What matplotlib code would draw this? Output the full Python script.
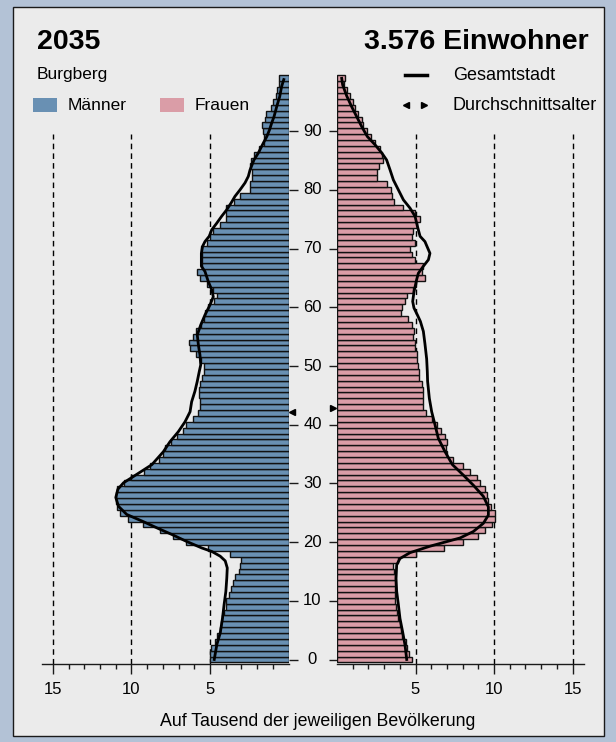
import matplotlib
matplotlib.use('Agg')
import matplotlib.pyplot as plt
from matplotlib.patches import Rectangle
from matplotlib.lines import Line2D
from matplotlib.transforms import blended_transform_factory
import numpy as np

plt.rcParams['font.family'] = ['Liberation Sans', 'DejaVu Sans']

# Data: per mille of the district population, ages 0..99
ages = np.arange(100)
maenner = [
    5.03, 5.03, 4.93, 4.67, 4.55, 4.38, 4.30, 4.25, 4.10, 4.00,
    3.95, 3.78, 3.66, 3.55, 3.40, 3.18, 3.07, 3.05, 3.74, 5.14,
    6.55, 7.35, 8.20, 9.25, 10.25, 10.75, 10.95, 11.00, 11.00, 10.93,
    10.50, 10.02, 9.20, 8.80, 8.23, 7.97, 7.87, 7.48, 7.12, 6.70,
    6.53, 6.10, 5.74, 5.62, 5.64, 5.68, 5.68, 5.64, 5.53, 5.40,
    5.40, 5.60, 5.87, 6.28, 6.35, 6.10, 5.90, 5.60, 5.40, 5.30,
    5.15, 4.75, 4.58, 4.83, 5.20, 5.64, 5.80, 5.50, 5.53, 5.50,
    5.55, 5.21, 5.02, 4.79, 4.38, 4.00, 3.98, 3.96, 3.47, 3.07,
    2.45, 2.45, 2.35, 2.35, 2.45, 2.40, 2.20, 1.90, 1.55, 1.55,
    1.60, 1.70, 1.50, 1.43, 1.10, 1.00, 0.80, 0.75, 0.60, 0.58,
]
frauen = [
    4.76, 4.60, 4.48, 4.39, 4.15, 4.06, 4.00, 3.91, 3.80, 3.76,
    3.72, 3.69, 3.69, 3.69, 3.69, 3.65, 3.55, 3.90, 5.05, 6.82,
    8.00, 8.95, 9.43, 9.89, 10.06, 10.06, 9.80, 9.64, 9.55, 9.40,
    9.10, 8.90, 8.47, 8.00, 7.37, 7.00, 6.95, 6.99, 6.88, 6.62,
    6.35, 6.03, 5.67, 5.50, 5.50, 5.50, 5.50, 5.39, 5.20, 5.25,
    5.18, 5.12, 5.07, 4.95, 4.97, 4.86, 4.90, 4.80, 4.54, 4.10,
    4.12, 4.30, 4.45, 4.83, 5.00, 5.60, 5.40, 5.50, 4.97, 4.76,
    4.65, 4.97, 4.76, 4.86, 5.07, 5.30, 4.97, 4.18, 3.65, 3.50,
    3.42, 3.16, 2.53, 2.53, 2.70, 2.95, 2.87, 2.74, 2.42, 2.14,
    1.89, 1.68, 1.57, 1.36, 1.15, 1.00, 0.83, 0.62, 0.45, 0.51,
]

# Gesamtstadt profile (read as points along the curve)
ges_m_alter = [0, 2.6, 4.5, 7.1, 9.4, 11.6, 13.9, 15.6, 16.8, 17.6, 18.4, 19.0,
               20.1, 21.3, 22.3, 23.6, 24.7, 26.1, 27.6, 29.0, 30.1, 31.0, 32.1,
               33.2, 35.4, 37.1, 38.8, 40.5, 42.2, 43.9, 45.7, 47.4, 49.1, 50.2,
               51.9, 53.6, 55.3, 57.0, 58.7, 60.4, 61.8, 63.0, 64.4, 66.1, 67.0,
               69.2, 70.4, 71.2, 72.1, 73.2, 74.3, 75.5, 76.6, 77.8, 78.9, 80.0,
               81.2, 82.3, 83.4, 85.1, 86.3, 88.0, 89.1, 90.3, 91.4, 92.5, 94.2,
               95.9, 97.6, 98.8]
ges_m = [4.73, 4.56, 4.35, 4.20, 4.10, 3.99, 3.93, 3.90, 4.03, 4.35, 4.88, 5.52,
         6.48, 7.43, 8.28, 9.34, 10.30, 10.83, 11.00, 10.87, 10.51, 9.98, 9.34,
         8.70, 7.97, 7.55, 7.02, 6.59, 6.27, 6.17, 5.96, 5.81, 5.68, 5.59,
         5.64, 5.74, 5.81, 5.59, 5.32, 5.00, 4.79, 4.89, 5.11, 5.32, 5.55,
         5.55, 5.47, 5.32, 5.05, 4.89, 4.58, 4.26, 3.94, 3.65, 3.41, 3.09,
         2.77, 2.56, 2.45, 2.20, 1.92, 1.60, 1.38, 1.20, 1.07, 0.92, 0.75,
         0.56, 0.44, 0.30]
ges_f_alter = [0, 2.5, 4.7, 7.0, 9.3, 11.6, 13.8, 16.1, 17.2, 18.2, 19.3, 20.7,
               21.8, 23.2, 24.6, 26.0, 27.8, 29.7, 31.4, 33.2, 35.4, 37.7, 40.0,
               42.2, 44.5, 47.4, 49.1, 51.2, 53.8, 55.9, 57.6, 58.7, 59.9, 61.0,
               62.6, 64.7, 65.8, 67.0, 68.1, 69.2, 71.2, 72.1, 73.8, 75.5, 76.9,
               78.3, 80.0, 81.7, 83.4, 85.1, 86.3, 87.7, 89.1, 90.8, 92.5, 94.2,
               96.0, 97.9, 99.0]
ges_f = [4.44, 4.33, 4.18, 4.01, 3.91, 3.80, 3.76, 3.80, 4.01, 4.65, 5.92, 7.83,
         8.68, 9.32, 9.64, 9.64, 9.32, 8.68, 8.05, 7.35, 6.88, 6.45, 6.24,
         6.03, 5.88, 5.77, 5.75, 5.71, 5.60, 5.50, 5.31, 5.12, 4.90, 4.82,
         4.90, 5.07, 5.18, 5.50, 5.82, 5.92, 5.60, 5.29, 5.12, 4.97, 4.65,
         4.23, 3.91, 3.59, 3.38, 3.16, 2.85, 2.42, 1.93, 1.57, 1.25, 0.93,
         0.62, 0.36, 0.30]

avg_m = 42.2
avg_f = 42.8
jahr = '2035'
einwohner = '3.576 Einwohner'
bezirk = 'Burgberg'
y_ticks = list(range(0, 100, 10))
x_major = [5, 10, 15]
x_minor = [1, 2, 3, 4, 6, 7, 8, 9, 11, 12, 13, 14]

BLUE = '#6990B3'
PINK = '#DA9DA7'
W, H = 616, 742


def fx(px):
    return px / W


def fy(py):
    return (H - py) / H


fig = plt.figure(figsize=(W / 100, H / 100), dpi=100, facecolor='#B3C2D6')
fig.add_artist(Rectangle((fx(13), fy(736)), fx(604) - fx(13), fy(7) - fy(736),
                         transform=fig.transFigure, facecolor='#EBEBEB',
                         edgecolor='#1a1a1a', linewidth=1, zorder=0))

y0, y1 = -0.68, 100
ax_m = fig.add_axes([fx(42), fy(663.5), fx(288.5) - fx(42), fy(72.5) - fy(663.5)])
ax_f = fig.add_axes([fx(337), fy(663.5), fx(584) - fx(337), fy(72.5) - fy(663.5)])

for ax, vals, col, g_age, g_val in [(ax_m, maenner, BLUE, ges_m_alter, ges_m),
                                    (ax_f, frauen, PINK, ges_f_alter, ges_f)]:
    ax.set_facecolor('none')
    ax.vlines(x_major, y0, 89.5, colors='black', linestyles=(0, (4, 3)),
              linewidth=1, zorder=1)
    ax.barh(ages, vals, height=1, color=col, edgecolor='#111111',
            linewidth=1.0, zorder=2)
    ax.plot(g_val, g_age, color='black', linewidth=2, zorder=3,
            solid_joinstyle='round')
    ax.set_ylim(y0, y1)
    ax.set_xticks(x_major)
    ax.set_xticks(x_minor, minor=True)
    ax.set_xticklabels([str(v) for v in x_major], fontsize=12)
    ax.tick_params(axis='x', which='major', length=7, width=1, pad=6.5,
                   color='#1a1a1a')
    ax.tick_params(axis='x', which='minor', length=3.5, width=1,
                   color='#1a1a1a')
    for s in ['top', 'left', 'right']:
        ax.spines[s].set_visible(False)
    ax.spines['bottom'].set_linewidth(1)
    ax.spines['bottom'].set_color('#1a1a1a')
    ax.set_yticks(y_ticks)

ax_m.set_xlim(15.7, 0)
ax_f.set_xlim(0, 15.73)
ax_m.yaxis.tick_right()
ax_m.tick_params(axis='y', right=True, left=False, labelright=False,
                 labelleft=False, length=6.5, width=1, color='#1a1a1a')
ax_f.tick_params(axis='y', left=True, labelleft=False, length=6,
                 width=1, color='#1a1a1a')

# age labels between the two halves
tr = blended_transform_factory(fig.transFigure, ax_f.transData)
for a in y_ticks:
    fig.text(fx(312.5), a, str(a), transform=tr, ha='center', va='center',
             fontsize=12)

# average age markers
ax_m.plot([-0.22], [avg_m], marker='<', color='black', markersize=5,
          clip_on=False, zorder=4)
ax_f.plot([-0.26], [avg_f], marker='>', color='black', markersize=5,
          clip_on=False, zorder=4)

# header texts
fig.text(fx(37), fy(42), jahr, fontsize=20.5, fontweight='bold',
         ha='left', va='center')
fig.text(fx(589), fy(42), einwohner, fontsize=20.5, fontweight='bold',
         ha='right', va='center')
fig.text(fx(37), fy(75), bezirk, fontsize=12.5, ha='left', va='center')

# legend
fig.add_artist(Rectangle((fx(33), fy(112)), fx(24), fy(98) - fy(112),
                         transform=fig.transFigure, facecolor=BLUE,
                         edgecolor='none'))
fig.text(fx(68), fy(105), 'Männer', fontsize=12.5, ha='left', va='center')
fig.add_artist(Rectangle((fx(160), fy(112)), fx(24), fy(98) - fy(112),
                         transform=fig.transFigure, facecolor=PINK,
                         edgecolor='none'))
fig.text(fx(195), fy(105), 'Frauen', fontsize=12.5, ha='left', va='center')
fig.add_artist(Line2D([fx(405), fx(427)], [fy(75), fy(75)],
                      transform=fig.transFigure, color='black', linewidth=2.5))
fig.text(fx(453), fy(75), 'Gesamtstadt', fontsize=13, ha='left', va='center')
fig.add_artist(Line2D([fx(406)], [fy(105)], transform=fig.transFigure,
                      marker='<', color='black', markersize=5, linestyle='none'))
fig.add_artist(Line2D([fx(424)], [fy(105)], transform=fig.transFigure,
                      marker='>', color='black', markersize=5, linestyle='none'))
fig.text(fx(453), fy(105), 'Durchschnittsalter', fontsize=13, ha='left',
         va='center')

fig.text(fx(318), fy(722), 'Auf Tausend der jeweiligen Bevölkerung',
         fontsize=12.8, ha='center', va='center')

fig.savefig('out.png', dpi=100, facecolor=fig.get_facecolor())
